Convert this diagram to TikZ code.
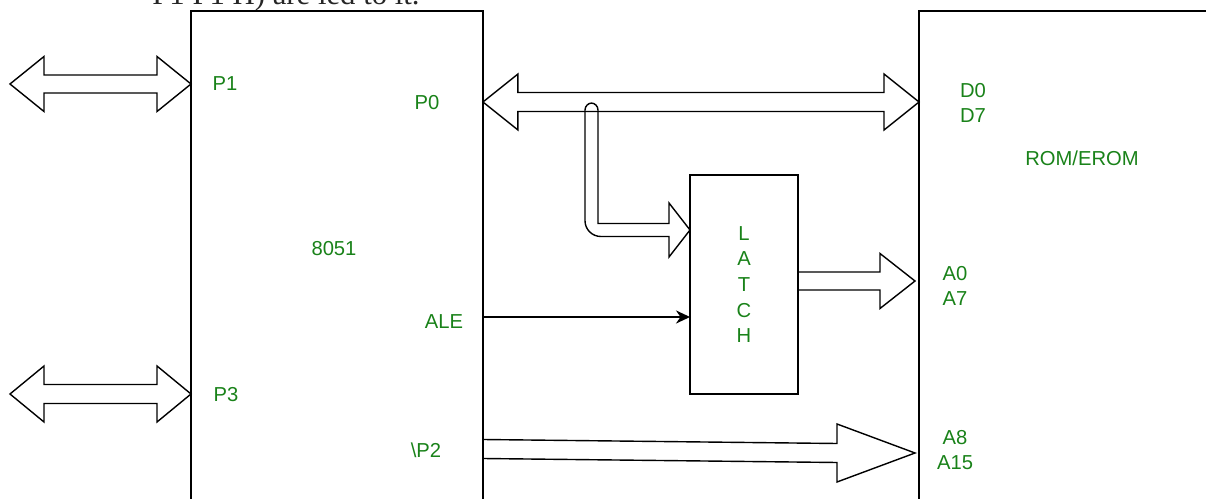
\documentclass[tikz,border=0pt]{standalone}
\usepackage{fontspec}
\setmainfont{Liberation Sans}
\newfontfamily\notefont{Liberation Serif}
\usetikzlibrary{calc, positioning, arrows.meta}
\definecolor{pingreen}{RGB}{25,130,25}
\tikzset{
    chip/.style={rectangle, draw=black, line width=0.8pt, anchor=north west, inner sep=0pt, outer sep=0pt},
    pinlabel/.style={text=pingreen, font=\fontsize{11.5}{14.6}\selectfont, align=center, inner sep=0pt},
    bus/.style={draw=black, line width=0.8pt, line join=miter},
    wire/.style={line width=0.8pt, -{Stealth[length=8pt, width=7.5pt]}}
}
% hollow bus arrows: start, tip, shaft half width, head half width, head length
\newcommand{\busright}[5]{%
  \draw[bus] ($(#1)+(0,-#3)$) -- ($(#2)+(-#5,-#3)$) -- ($(#2)+(-#5,-#4)$) -- (#2)
    -- ($(#2)+(-#5,#4)$) -- ($(#2)+(-#5,#3)$) -- ($(#1)+(0,#3)$);}
\newcommand{\busboth}[5]{%
  \draw[bus] (#1) -- ($(#1)+(#5,-#4)$) -- ($(#1)+(#5,-#3)$) -- ($(#2)+(-#5,-#3)$)
    -- ($(#2)+(-#5,-#4)$) -- (#2) -- ($(#2)+(-#5,#4)$) -- ($(#2)+(-#5,#3)$)
    -- ($(#1)+(#5,#3)$) -- ($(#1)+(#5,#4)$) -- cycle;}

\begin{document}
\begin{tikzpicture}[x=0.02cm, y=-0.02cm]
    \useasboundingbox (0,0) rectangle (1206,499);

    \node (note) [font=\notefont\fontsize{17.5}{20}\selectfont, text=black!85, anchor=base west, inner sep=0pt] at (152,5) {P1 P1 H) are led to it.};

    % blocks
    \node (cpu) [chip, minimum width=5.84cm, minimum height=10.4cm] at (191,11) {};
    \node (rom) [chip, minimum width=7cm, minimum height=10.4cm] at (919,11) {};
    \node (latch) [chip, pinlabel, minimum width=2.16cm, minimum height=4.38cm] at (690,175) {L\\A\\T\\C\\H};

    % pin labels
    \node (lp1) [pinlabel] at (225,84) {P1};
    \node (lp0) [pinlabel] at (427,103) {P0};
    \node (lcpu) [pinlabel] at (334,249) {8051};
    \node (lale) [pinlabel] at (444,322) {ALE};
    \node (lp3) [pinlabel] at (226,395) {P3};
    \node (lp2) [pinlabel] at (426,450) {\textbackslash P2};
    \node (ldata) [pinlabel] at (973,103) {D0\\D7};
    \node (lrom) [pinlabel] at (1082,158) {ROM/EROM};
    \node (llow) [pinlabel] at (955,286) {A0\\A7};
    \node (lhigh) [pinlabel] at (955,450) {A8\\A15};

    % end points
    \coordinate (p1end) at (10,84);
    \coordinate (p1tip) at (cpu.west |- p1end);
    \coordinate (p3end) at (10,394);
    \coordinate (p3tip) at (cpu.west |- p3end);
    \coordinate (p0out) at (cpu.east |- 0,102);
    \coordinate (p0in) at (rom.west |- p0out);
    \coordinate (tap) at (591.5,103);
    \coordinate (latchin) at (latch.west |- 0,230);
    \coordinate (bend) at (tap |- latchin);
    \coordinate (latchout) at (latch.east |- 0,281);
    \coordinate (lowin) at (915,281);
    \coordinate (aleout) at (cpu.east |- 0,317);
    \coordinate (p2out) at (cpu.east |- 0,449);
    \coordinate (highin) at (915,453);

    % buses
    \busboth{p1end}{p1tip}{9}{27.5}{34}
    \busboth{p3end}{p3tip}{9.5}{28}{34}
    \busboth{p0out}{p0in}{9.5}{28}{35}
    \busright{latchout}{lowin}{9}{27.5}{35}
    \busright{p2out}{highin}{9.5}{29}{78}
    \draw[bus] ($(bend)+(-6.5,-60)$) [rounded corners=4] -- ($(tap)+(-6.5,0)$) -- ($(tap)+(6.5,0)$)
        [sharp corners] -- ($(bend)+(6.5,-6.5)$) -- ($(latchin)+(-21,-6.5)$) -- ($(latchin)+(-21,-27)$)
        -- (latchin) -- ($(latchin)+(-21,27)$) -- ($(latchin)+(-21,6.5)$)
        [rounded corners=9] -- ($(bend)+(-6.5,6.5)$) -- ($(bend)+(-6.5,-60)$);

    \draw[wire] (aleout) -- (latch.west |- aleout);
\end{tikzpicture}
\end{document}
